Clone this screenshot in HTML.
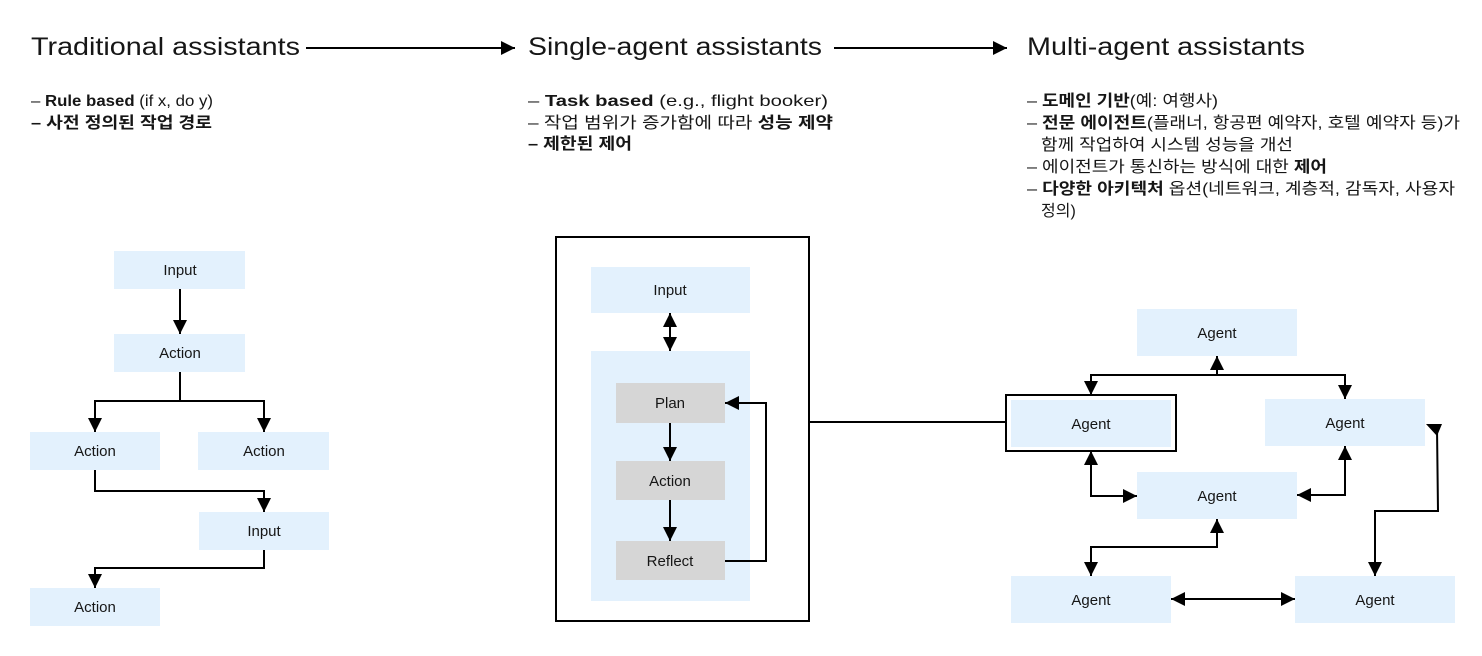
<!DOCTYPE html>
<html><head><meta charset="utf-8"><style>
html,body{margin:0;padding:0;background:#fff;width:1482px;height:656px;overflow:hidden}
svg text{font-family:"Liberation Sans","Noto Sans CJK KR",sans-serif;fill:#161616}
.t{font-size:25px}
.b{font-size:16px}
.n{font-size:15px}
.bold{font-weight:bold}
</style></head><body>
<svg width="1482" height="656" viewBox="0 0 1482 656" xmlns="http://www.w3.org/2000/svg">
<defs>
<marker id="m" viewBox="0 0 10 10" refX="10" refY="5" markerWidth="14" markerHeight="14" orient="auto-start-reverse" markerUnits="userSpaceOnUse"><path d="M0,0 L10,5 L0,10z" fill="#000"/></marker>
</defs>
<g fill="none" stroke="#000" stroke-width="2">
<line x1="306" y1="48" x2="515" y2="48" marker-end="url(#m)"/>
<line x1="834" y1="48" x2="1007" y2="48" marker-end="url(#m)"/>
</g>
<text class="t" x="31" y="55" textLength="269" lengthAdjust="spacingAndGlyphs">Traditional assistants</text>
<text class="t" x="528" y="55" textLength="294" lengthAdjust="spacingAndGlyphs">Single-agent assistants</text>
<text class="t" x="1027" y="55" textLength="278" lengthAdjust="spacingAndGlyphs">Multi-agent assistants</text>

<text class="b" x="31" y="106" textLength="182" lengthAdjust="spacingAndGlyphs">– <tspan class="bold">Rule based</tspan> (if x, do y)</text>
<text class="b bold" x="31" y="128" textLength="181" lengthAdjust="spacingAndGlyphs">– 사전 정의된 작업 경로</text>

<text class="b" x="528" y="106" textLength="300" lengthAdjust="spacingAndGlyphs">– <tspan class="bold">Task based</tspan> (e.g., flight booker)</text>
<text class="b" x="528" y="128" textLength="305" lengthAdjust="spacingAndGlyphs">– 작업 범위가 증가함에 따라 <tspan class="bold">성능 제약</tspan></text>
<text class="b bold" x="528" y="149" textLength="104" lengthAdjust="spacingAndGlyphs">– 제한된 제어</text>

<text class="b" x="1027" y="106" textLength="191" lengthAdjust="spacingAndGlyphs">– <tspan class="bold">도메인 기반</tspan>(예: 여행사)</text>
<text class="b" x="1027" y="128" textLength="433" lengthAdjust="spacingAndGlyphs">– <tspan class="bold">전문 에이전트</tspan>(플래너, 항공편 예약자, 호텔 예약자 등)가</text>
<text class="b" x="1041" y="150" textLength="252" lengthAdjust="spacingAndGlyphs">함께 작업하여 시스템 성능을 개선</text>
<text class="b" x="1027" y="172" textLength="300" lengthAdjust="spacingAndGlyphs">– 에이전트가 통신하는 방식에 대한 <tspan class="bold">제어</tspan></text>
<text class="b" x="1027" y="194" textLength="428" lengthAdjust="spacingAndGlyphs">– <tspan class="bold">다양한 아키텍처</tspan> 옵션(네트워크, 계층적, 감독자, 사용자</text>
<text class="b" x="1041" y="216">정의)</text>

<g fill="#e3f1fd">
<rect x="114" y="251" width="131" height="38"/>
<rect x="114" y="334" width="131" height="38"/>
<rect x="30" y="432" width="130" height="38"/>
<rect x="198" y="432" width="131" height="38"/>
<rect x="199" y="512" width="130" height="38"/>
<rect x="30" y="588" width="130" height="38"/>
<rect x="591" y="267" width="159" height="46"/>
<rect x="591" y="351" width="159" height="250"/>
<rect x="1137" y="309" width="160" height="47"/>
<rect x="1011" y="400" width="160" height="47"/>
<rect x="1265" y="399" width="160" height="47"/>
<rect x="1137" y="472" width="160" height="47"/>
<rect x="1011" y="576" width="160" height="47"/>
<rect x="1295" y="576" width="160" height="47"/>
</g>
<g fill="#d6d6d6">
<rect x="616" y="383" width="109" height="40"/>
<rect x="616" y="461" width="109" height="39"/>
<rect x="616" y="541" width="109" height="39"/>
</g>
<g fill="none" stroke="#000" stroke-width="2">
<rect x="556" y="237" width="253" height="384"/>
<rect x="1006" y="395" width="170" height="56"/>
<line x1="809" y1="422" x2="1006" y2="422"/>
<line x1="180" y1="289" x2="180" y2="334" marker-end="url(#m)"/>
<line x1="180" y1="372" x2="180" y2="401"/>
<polyline points="95,432 95,401 264,401 264,432" marker-start="url(#m)" marker-end="url(#m)"/>
<polyline points="95,470 95,491 264,491 264,512" marker-end="url(#m)"/>
<polyline points="264,550 264,568 95,568 95,588" marker-end="url(#m)"/>
<line x1="670" y1="313" x2="670" y2="351" marker-start="url(#m)" marker-end="url(#m)"/>
<line x1="670" y1="423" x2="670" y2="461" marker-end="url(#m)"/>
<line x1="670" y1="500" x2="670" y2="541" marker-end="url(#m)"/>
<polyline points="725,561 766,561 766,403 725,403" marker-end="url(#m)"/>
<polyline points="1091,395 1091,375 1345,375 1345,399" marker-start="url(#m)" marker-end="url(#m)"/>
<line x1="1217" y1="375" x2="1217" y2="356" marker-end="url(#m)"/>
<polyline points="1091,451 1091,496 1137,496" marker-start="url(#m)" marker-end="url(#m)"/>
<polyline points="1345,446 1345,495 1297,495" marker-start="url(#m)" marker-end="url(#m)"/>
<polyline points="1217,519 1217,547 1091,547 1091,576" marker-start="url(#m)" marker-end="url(#m)"/>
<line x1="1171" y1="599" x2="1295" y2="599" marker-start="url(#m)" marker-end="url(#m)"/>
<polyline points="1437,428 1438,511 1375,511 1375,576" marker-end="url(#m)"/>
</g>
<path d="M1426,424 L1442,424 L1437,436z" fill="#000"/>

<g text-anchor="middle">
<text class="n" x="180" y="275">Input</text>
<text class="n" x="180" y="358">Action</text>
<text class="n" x="95" y="456">Action</text>
<text class="n" x="264" y="456">Action</text>
<text class="n" x="264" y="536">Input</text>
<text class="n" x="95" y="612">Action</text>
<text class="n" x="670" y="295">Input</text>
<text class="n" x="670" y="408">Plan</text>
<text class="n" x="670" y="486">Action</text>
<text class="n" x="670" y="566">Reflect</text>
<text class="n" x="1217" y="338">Agent</text>
<text class="n" x="1091" y="429">Agent</text>
<text class="n" x="1345" y="428">Agent</text>
<text class="n" x="1217" y="501">Agent</text>
<text class="n" x="1091" y="605">Agent</text>
<text class="n" x="1375" y="605">Agent</text>
</g>
</svg>
</body></html>
